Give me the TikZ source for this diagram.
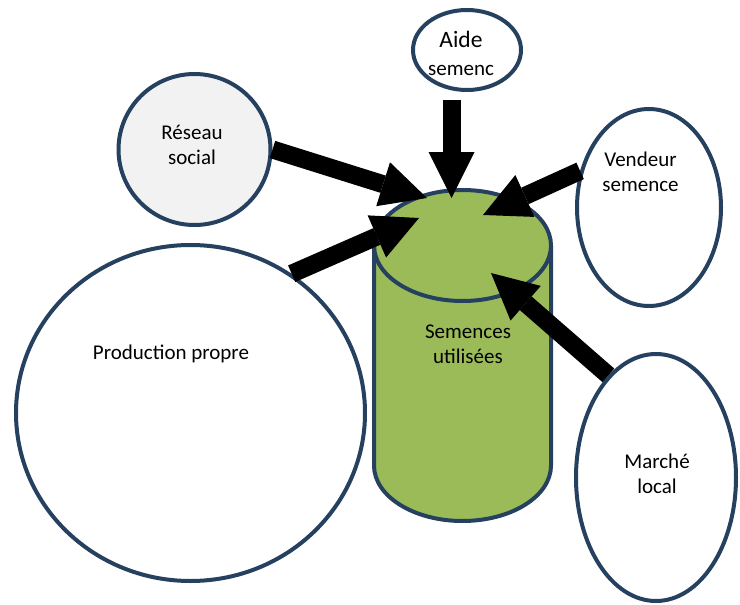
\documentclass[tikz,border=0pt]{standalone}
\usepackage{fontspec}
\setmainfont{Carlito}
\usetikzlibrary{shapes.geometric,arrows.meta}
\definecolor{edgeblue}{RGB}{38,64,96}
\definecolor{cylgreen}{RGB}{155,187,89}
\definecolor{softgray}{RGB}{242,242,242}
\begin{document}
\begin{tikzpicture}[x=1pt,y=-1pt,
  bub/.style={ellipse,draw=edgeblue,line width=4pt,inner sep=0pt,fill=white},
  lbl/.style={font=\fontsize{21}{25}\selectfont,align=center,anchor=base,inner sep=0pt},
  cylline/.style={draw=edgeblue,line width=4pt},
  feed/.style={line width=18pt,black,-{Triangle[length=46pt,width=46pt,line width=0pt]}}]
\useasboundingbox (0,0) rectangle (740,605);
% bubbles
\node[bub,minimum width=349pt,minimum height=336pt] (prod) at (190.5,413) {};
\node[bub,fill=softgray,minimum width=152pt,minimum height=151pt] (reseau) at (194.5,149.5) {};
\node[bub,minimum width=108pt,minimum height=80pt] (aide) at (467,50) {};
\node[bub,minimum width=144pt,minimum height=197pt] (vend) at (649,207.5) {};
\node[bub,minimum width=160pt,minimum height=247pt] (march) at (656,477.5) {};
% cylinder
\fill[cylgreen] (374,245.5) -- (374,465.5) arc[start angle=180,end angle=0,x radius=88.5,y radius=55.5]
  -- (551,245.5) arc[start angle=0,end angle=-180,x radius=88.5,y radius=55.5] -- cycle;
\draw[cylline] (374,245.5) -- (374,465.5) arc[start angle=180,end angle=0,x radius=88.5,y radius=55.5] -- (551,245.5);
\draw[cylline] (462.5,245.5) ellipse [x radius=88.5,y radius=55.5];
% arrow ends
\coordinate (aideS) at (451.5,100);
\coordinate (tipA) at (451.5,198);
\coordinate (tipR) at (427,198);
\coordinate (tipP) at (419,218);
\coordinate (tipV) at (483,215);
\coordinate (tipM) at (491,273);
\draw[feed] (aideS) -- (tipA);
\draw[feed] (reseau.east) -- (tipR);
\draw[feed] (prod.54) -- (tipP);
\draw[feed] (vend.152) -- (tipV);
\draw[feed] (march.115) -- (tipM);
% labels
\node[lbl] (prodT) at (171,359) {Production propre};
\node[lbl] (reseauT) at (192,164) {Réseau\\social};
\node[lbl,font=\fontsize{21}{28}\selectfont] (aideT) at (461,75) {{\fontsize{23.5}{28}\selectfont Aide}\\semenc};
\node[lbl] (vendT) at (640.5,191) {Vendeur\\semence};
\node[lbl] (semT) at (468,363) {Semences\\utilisées};
\node[lbl] (marchT) at (657,493) {Marché\\local};
\end{tikzpicture}
\end{document}
